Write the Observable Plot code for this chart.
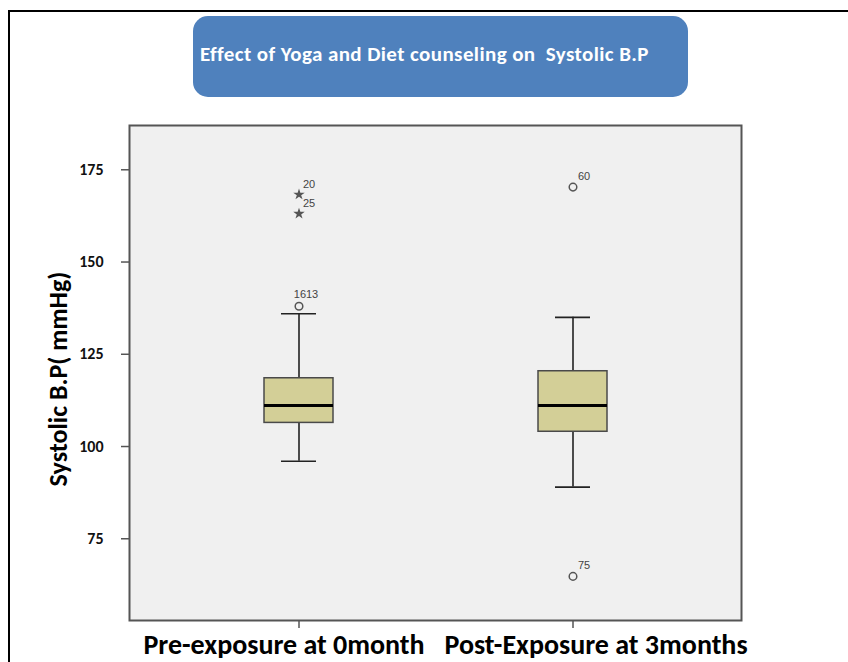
<!DOCTYPE html>
<html>
<head>
<meta charset="utf-8">
<script src="https://cdn.jsdelivr.net/npm/d3@7"></script>
<script src="https://cdn.jsdelivr.net/npm/@observablehq/plot@0.6"></script>
<style>
  html, body { margin: 0; padding: 0; background: #fff; }
  #wrap { position: relative; width: 848px; height: 662px; overflow: hidden; }
  #frame { position: absolute; left: 8px; top: 10px; width: 900px; height: 700px;
           border-left: 2px solid #000; border-top: 2px solid #000; }
  #title { position: absolute; left: 193px; top: 16px; width: 495px; height: 81px;
           background: #4f81bd; border-radius: 15px; }
  #title span { position: absolute; left: 7px; top: 25px; color: #fff;
           font-family: Carlito, "Liberation Sans Narrow", "Open Sans", sans-serif;
           font-weight: bold; font-size: 21px; white-space: pre; letter-spacing: 0.4px; }
  svg { position: absolute; left: 0; top: 0; }
</style>
</head>
<body>
<div id="wrap">
  <div id="frame"></div>
  <div id="title"><span>Effect of Yoga and Diet counseling on  Systolic B.P</span></div>
</div>
<script>
// ---- data ----
const groups = ["Pre-exposure at 0month", "Post-Exposure at 3months"];
const q1 = [106.4, 104.0];
const median = [111.1, 111.1];
const q3 = [118.5, 120.4];
const whiskerLow = [96, 89];
const whiskerHigh = [136, 135];
const outlierGroup = [0, 1, 1];
const outlierValue = [138, 170.3, 64.8];
const outlierLabel = ["1613", "60", "75"];
const extremeGroup = [0, 0];
const extremeValue = [168.3, 163.1];
const extremeLabel = ["20", "25"];
const yTicks = [75, 100, 125, 150, 175];
const yLabel = "Systolic B.P( mmHg)";

const boxes = groups.map((g, i) => ({g, q1: q1[i], med: median[i], q3: q3[i], lo: whiskerLow[i], hi: whiskerHigh[i]}));
const outliers = outlierValue.map((v, i) => ({g: groups[outlierGroup[i]], v, label: outlierLabel[i]}));
const extremes = extremeValue.map((v, i) => ({g: groups[extremeGroup[i]], v, label: extremeLabel[i]}));

const font = 'Carlito, "Liberation Sans Narrow", "Open Sans", sans-serif';
const small = '"Liberation Sans", Arial, sans-serif';
const grey = "#555";

const chart = Plot.plot({
  width: 848,
  height: 662,
  marginLeft: 129,
  marginRight: 107,
  marginTop: 125,
  marginBottom: 42,
  style: {background: "transparent", fontFamily: font, overflow: "visible"},
  x: {type: "band", domain: groups, paddingInner: 0.749, paddingOuter: 0.49, align: 0.5},
  y: {domain: [52.85, 187]},
  marks: [
    Plot.frame({fill: "#f0f0f0", stroke: null}),
    // whiskers
    Plot.ruleX(boxes, {x: "g", y1: "lo", y2: "q1", stroke: "#222", strokeWidth: 1.6}),
    Plot.ruleX(boxes, {x: "g", y1: "q3", y2: "hi", stroke: "#222", strokeWidth: 1.6}),
    Plot.tickY(boxes, {x: "g", y: "lo", stroke: "#222", strokeWidth: 1.6, insetLeft: 17, insetRight: 17}),
    Plot.tickY(boxes, {x: "g", y: "hi", stroke: "#222", strokeWidth: 1.6, insetLeft: 17, insetRight: 17}),
    // boxes
    Plot.barY(boxes, {x: "g", y1: "q1", y2: "q3", fill: "#d3cf97", stroke: "#4a4a4a", strokeWidth: 1.5}),
    Plot.tickY(boxes, {x: "g", y: "med", stroke: "#000", strokeWidth: 3}),
    // outliers
    Plot.dot(outliers, {x: "g", y: "v", r: 3.8, stroke: grey, strokeWidth: 1.5, fill: "none"}),
    Plot.dot(extremes, {x: "g", y: "v", symbol: "star", r: 3.6, fill: grey, stroke: null}),
    Plot.text(outliers.filter(d => d.label !== "1613"), {x: "g", y: "v", text: "label", textAnchor: "start", dx: 5, dy: -11, fontSize: 11, fill: "#444", fontFamily: small}),
    Plot.text(outliers.filter(d => d.label === "1613"), {x: "g", y: "v", text: "label", textAnchor: "middle", dx: 7, dy: -12, fontSize: 11, fill: "#444", fontFamily: small}),
    Plot.text(extremes, {x: "g", y: "v", text: "label", textAnchor: "start", dx: 4, dy: -10, fontSize: 11, fill: "#444", fontFamily: small}),
    // plot border
    Plot.frame({stroke: "#555", strokeWidth: 2}),
    // axes
    Plot.axisY({ticks: yTicks, tickSize: 8, tickPadding: 18, stroke: grey, strokeWidth: 1.5, fontSize: 16, fontWeight: "bold", fill: "#111", label: null}),
    Plot.axisX({tickSize: 8, tickFormat: () => "", stroke: grey, strokeWidth: 1.5, label: null}),
    Plot.axisX([groups[0]], {tickSize: 0, tickPadding: 14, dx: -15, fontSize: 28, fontWeight: "bold", fill: "#000", label: null}),
    Plot.axisX([groups[1]], {tickSize: 0, tickPadding: 14, dx: 23, fontSize: 28, fontWeight: "bold", fill: "#000", label: null}),
    Plot.text([yLabel], {frameAnchor: "left", textAnchor: "middle", dx: -71, dy: 6, rotate: -90, fontSize: 26, fontWeight: "bold", fill: "#000", text: d => d})
  ]
});
document.getElementById("wrap").appendChild(chart);
</script>
</body>
</html>
